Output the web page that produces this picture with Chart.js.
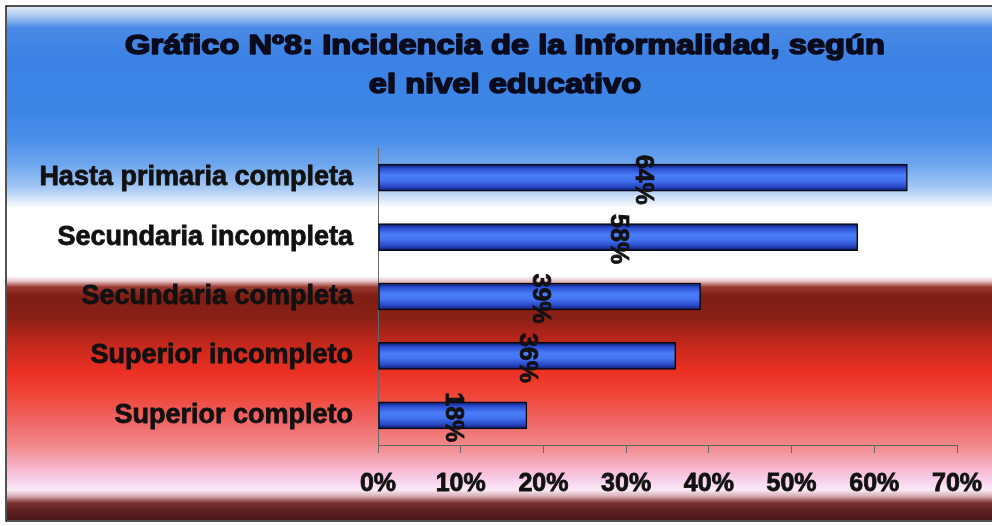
<!DOCTYPE html>
<html>
<head>
<meta charset="utf-8">
<script src="https://cdn.jsdelivr.net/npm/chart.js@4"></script>
<style>
  html, body { margin: 0; padding: 0; background: #ffffff; }
  #wrap { width: 992px; height: 526px; }
</style>
</head>
<body>
<div id="wrap"><canvas id="informalChart"></canvas></div>
<script>
// Incidencia de la informalidad por nivel educativo (%)
const categories = [
  "Hasta primaria completa",
  "Secundaria incompleta",
  "Secundaria completa",
  "Superior incompleto",
  "Superior completo",
];
const values = [64, 58, 39, 36, 18];
const titleLines = [
  "Gráfico Nº8: Incidencia de la Informalidad, según",
  "el nivel educativo",
];
const xMax = 70;
const xStep = 10;

const FONT = "'Liberation Sans', Arial, sans-serif";

// vertical band colours of the chart backdrop (y pixel, colour)
const bgStops = [
  [7, "#dfe9f7"], [16, "#a9c8f0"], [28, "#4a8ae6"], [60, "#3b82e4"],
  [110, "#3d86e6"], [140, "#4b90ea"], [165, "#6fa7ee"], [188, "#a5c8f4"],
  [200, "#dbe8fa"], [208, "#ffffff"], [276, "#ffffff"], [281, "#e8c8cc"],
  [287, "#9c3a30"], [296, "#7e1e14"], [318, "#8a2016"], [345, "#c6281c"],
  [372, "#ec3024"], [395, "#f04638"], [420, "#f06464"], [445, "#f28888"],
  [465, "#f6aec4"], [480, "#f8d0ec"], [490, "#fbeaf6"], [496, "#d8b0b8"],
  [503, "#7a3030"], [512, "#5a1e1e"], [520, "#4a1818"],
];

const backdrop = {
  id: "backdrop",
  beforeDraw(chart) {
    const ctx = chart.ctx;
    const top = 7, bottom = 520;
    const g = ctx.createLinearGradient(0, top, 0, bottom);
    bgStops.forEach(([y, c]) => g.addColorStop((y - top) / (bottom - top), c));
    ctx.save();
    ctx.fillStyle = g;
    ctx.fillRect(7, top, chart.width - 7, bottom - top);
    ctx.strokeStyle = "#1a1a1a";
    ctx.lineWidth = 1.5;
    ctx.strokeRect(6, 6, chart.width + 4, 515);
    ctx.restore();
  },
};

// two-line heading, widened and heavy like the original office chart
const heading = {
  id: "heading",
  afterDraw(chart) {
    const ctx = chart.ctx;
    ctx.save();
    ctx.fillStyle = "#0b0b1e";
    ctx.strokeStyle = "#0b0b1e";
    ctx.lineWidth = 1.6;
    ctx.lineJoin = "round";
    ctx.font = "bold 27px " + FONT;
    ctx.textAlign = "center";
    ctx.textBaseline = "middle";
    const cx = 505;
    [47, 86].forEach((y, i) => {
      ctx.save();
      ctx.translate(cx, y);
      ctx.scale(1.21, 1);
      ctx.fillText(titleLines[i], 0, 0);
      ctx.strokeText(titleLines[i], 0, 0);
      ctx.restore();
    });
    ctx.restore();
  },
};

// rotated value labels in the middle of each bar
const barLabels = {
  id: "barLabels",
  afterDatasetsDraw(chart) {
    const ctx = chart.ctx;
    const meta = chart.getDatasetMeta(0);
    ctx.save();
    ctx.fillStyle = "#111111";
    ctx.strokeStyle = "#111111";
    ctx.lineWidth = 0.8;
    ctx.font = "bold 25px " + FONT;
    ctx.textAlign = "center";
    ctx.textBaseline = "middle";
    meta.data.forEach((bar, i) => {
      ctx.save();
      ctx.translate((bar.x + bar.base) / 2, bar.y + 2);
      ctx.rotate(Math.PI / 2);
      ctx.fillText(values[i] + "%", 0, 0);
      ctx.strokeText(values[i] + "%", 0, 0);
      ctx.restore();
    });
    ctx.restore();
  },
};

function barFill(c) {
  const chart = c.chart;
  const yScale = chart.scales.y;
  if (!chart.chartArea || !yScale) return "#3f6ff0";
  const yc = yScale.getPixelForValue(c.dataIndex);
  const g = chart.ctx.createLinearGradient(0, yc - 13, 0, yc + 13);
  g.addColorStop(0, "#0c1a6a");
  g.addColorStop(0.15, "#2a4ed0");
  g.addColorStop(0.4, "#4a7cf8");
  g.addColorStop(0.6, "#4474f2");
  g.addColorStop(0.85, "#2848c4");
  g.addColorStop(1, "#0e1c6e");
  return g;
}

const ctx = document.getElementById("informalChart").getContext("2d");
new Chart(ctx, {
  type: "bar",
  data: {
    labels: categories,
    datasets: [
      {
        data: values,
        backgroundColor: barFill,
        borderColor: "#0a0a14",
        borderWidth: 1.5,
        borderSkipped: false,
        barThickness: 27,
      },
    ],
  },
  options: {
    indexAxis: "y",
    responsive: true,
    maintainAspectRatio: false,
    animation: false,
    layout: { padding: { top: 148, right: 35, left: 0, bottom: 0 } },
    plugins: {
      legend: { display: false },
      title: { display: false },
      tooltip: { enabled: false },
    },
    scales: {
      x: {
        min: 0,
        max: xMax,
        afterFit(scale) {
          scale.height = 81;
          scale.paddingLeft = 0;
          scale.paddingRight = 0;
        },
        ticks: {
          stepSize: xStep,
          padding: 16,
          color: "#111111",
          textStrokeColor: "#111111",
          textStrokeWidth: 0.8,
          font: { family: FONT, size: 25, weight: "bold" },
          callback: (v) => v + "%",
        },
        grid: {
          drawOnChartArea: false,
          drawTicks: true,
          tickLength: 8,
          color: "#666666",
        },
        border: { display: true, color: "#666666", width: 1 },
      },
      y: {
        afterFit(scale) { scale.width = 378; },
        ticks: {
          padding: 17,
          color: "#111111",
          textStrokeColor: "#111111",
          textStrokeWidth: 0.8,
          font: { family: FONT, size: 27, weight: "bold" },
        },
        grid: { display: false },
        border: { display: true, color: "#666666", width: 1 },
      },
    },
  },
  plugins: [backdrop, heading, barLabels],
});
</script>
</body>
</html>
